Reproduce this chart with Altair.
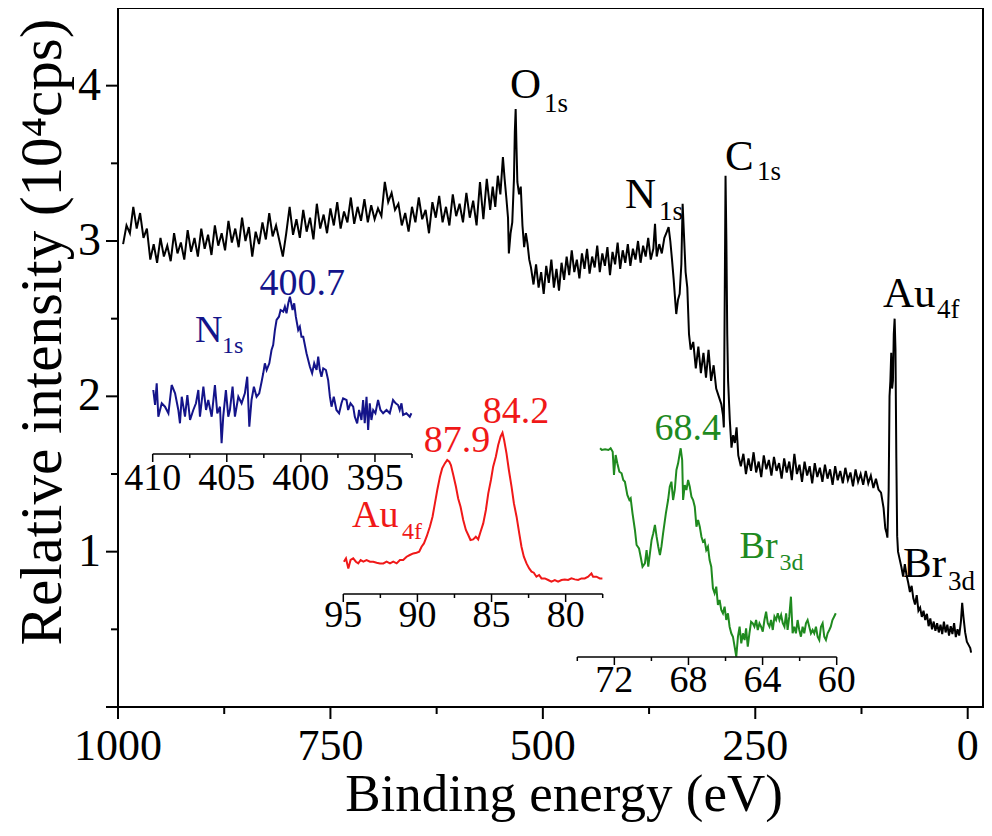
import altair as alt
import pandas as pd

FONT = "Liberation Serif, Times New Roman, serif"

# ---------------- survey spectrum (binding energy in eV, intensity in 10^4 cps)
survey_energy = [
    994, 990, 986, 982, 978, 974, 970, 966, 962, 958, 954, 950, 946, 942, 938, 934, 930, 926, 922, 918,
    914, 910, 906, 902, 898, 894, 890, 886, 882, 878, 874, 870, 866, 862, 858, 854, 850, 846, 842, 838,
    834, 830, 826, 822, 818, 814, 810, 806, 802, 798, 794, 790, 786, 782, 778, 774, 770, 766, 762, 758,
    754, 750, 746, 742, 738, 734, 730, 726, 722, 718, 714, 710, 706, 702, 698, 694, 690, 686, 682, 678,
    674, 670, 666, 662, 658, 654, 650, 646, 642, 638, 634, 630, 626, 622, 618, 614, 610, 606, 602, 598,
    594, 590, 586, 582, 578, 574, 570, 566, 562,
    559, 556, 553, 550, 547, 545, 543, 541, 540, 538, 536, 534, 533, 532, 531, 530, 528, 526, 524, 522,
    520, 518, 516, 514,
    511, 508, 505, 502, 499, 496, 493, 490, 487, 484, 481, 478, 475, 472, 469, 466, 463, 460, 457, 454,
    451, 448, 445, 442, 439, 436, 433, 430, 427, 424, 421, 418, 415, 412, 409, 406, 403, 400, 397, 394,
    391, 388, 385, 382, 379, 376, 373,
    370, 368, 366, 363, 360, 357, 354, 352, 350, 348, 346, 344, 343, 341, 339, 337, 335.5, 334, 332, 330,
    328, 326, 323, 320, 317, 314, 311, 308, 305, 302, 299, 296, 293, 290, 288, 287, 286, 285, 284, 283,
    282, 280, 278, 276, 274, 272, 270,
    267, 264, 261, 258, 255, 252, 249, 246, 243, 240, 237, 234, 231, 228, 225, 222, 219, 216, 213, 210,
    207, 204, 201, 198, 195, 192, 189, 186, 183, 180, 177, 174, 171, 168, 165, 162, 159, 156, 153, 150,
    147, 144, 141, 138, 135, 132, 129, 126, 123, 120, 117, 114, 111, 108, 105,
    102, 99, 97, 95.5, 94.5, 93, 92, 91, 90, 89, 88, 87, 86, 85, 84, 83, 82, 80, 78, 76,
    74, 72, 70, 68, 66, 64, 62, 60, 58, 56, 54, 52, 50, 48, 46, 44, 42, 40, 38, 36,
    34, 32, 30, 28, 26, 24, 22, 20, 18, 16, 14, 12, 10, 8, 6.5, 5, 3, 1, -1, -3, -4,
]
survey_counts = [
    2.98, 3.10, 3.05, 3.22, 3.08, 3.18, 3.02, 3.08, 2.88, 2.98, 2.86, 3.02, 2.90, 2.97, 2.87, 3.05, 2.92, 2.99, 2.88, 3.07,
    2.93, 3.02, 2.90, 3.08, 2.95, 3.04, 2.91, 3.10, 2.97, 3.05, 2.94, 3.13, 2.99, 3.08, 2.96, 3.15, 3.00, 3.09, 2.90, 3.06,
    2.98, 3.12, 3.01, 3.18, 3.03, 3.10, 3.00, 2.90, 3.05, 3.22, 3.04, 3.14, 3.02, 3.20, 3.06, 3.15, 3.01, 3.24, 3.08, 3.17,
    3.05, 3.21, 3.10, 3.25, 3.08, 3.19, 3.12, 3.28, 3.11, 3.22, 3.13, 3.27, 3.12, 3.23, 3.14, 3.21, 3.16, 3.38, 3.25, 3.31,
    3.20, 3.24, 3.10, 3.18, 3.06, 3.22, 3.12, 3.28, 3.14, 3.20, 3.05, 3.25, 3.15, 3.29, 3.12, 3.22, 3.10, 3.30, 3.16, 3.24,
    3.12, 3.31, 3.15, 3.26, 3.10, 3.38, 3.14, 3.40, 3.20,
    3.35, 3.22, 3.42, 3.30, 3.54, 3.40, 3.28, 3.15, 2.92, 3.05, 3.12, 3.40, 3.70, 3.85, 3.60, 3.38, 3.30, 3.35, 3.10, 2.96,
    3.05, 2.98, 2.88, 2.83,
    2.72, 2.85, 2.70, 2.80, 2.66, 2.84, 2.73, 2.88, 2.70, 2.82, 2.68, 2.86, 2.75, 2.90, 2.78, 2.94, 2.80, 2.88, 2.76, 2.92,
    2.82, 2.95, 2.79, 2.90, 2.83, 2.97, 2.80, 2.92, 2.84, 2.96, 2.78, 2.93, 2.85, 2.99, 2.82, 2.94, 2.86, 2.98, 2.84, 2.95,
    2.88, 3.00, 2.86, 2.97, 2.90, 3.02, 2.88,
    2.95, 3.11, 2.90, 2.98, 2.92, 3.02, 3.06, 3.09, 3.00, 2.88, 2.75, 2.60, 2.53, 2.62, 2.66, 2.85, 3.24, 3.05, 2.80, 2.70,
    2.40, 2.30, 2.35, 2.18, 2.32, 2.15, 2.28, 2.12, 2.30, 2.10, 2.20, 2.05, 2.00, 1.95, 1.88, 1.80, 2.60, 3.42, 3.00, 2.40,
    2.10, 1.85, 1.67, 1.75, 1.70, 1.80, 1.62,
    1.55, 1.63, 1.50, 1.60, 1.52, 1.64, 1.51, 1.58, 1.48, 1.62, 1.53, 1.59, 1.49, 1.61, 1.52, 1.57, 1.47, 1.60, 1.51, 1.58,
    1.46, 1.63, 1.50, 1.56, 1.45, 1.58, 1.49, 1.55, 1.44, 1.57, 1.48, 1.54, 1.45, 1.56, 1.47, 1.53, 1.43, 1.55, 1.46, 1.52,
    1.44, 1.54, 1.46, 1.51, 1.42, 1.53, 1.45, 1.50, 1.43, 1.52, 1.44, 1.49, 1.41, 1.47, 1.40,
    1.38, 1.28, 1.15, 1.12, 1.09, 1.40, 2.00, 2.10, 2.28, 2.05, 2.10, 2.40, 2.50, 2.30, 1.60, 1.10, 1.00, 0.95, 0.90, 0.84,
    0.92, 0.85, 0.80, 0.74, 0.78, 0.70, 0.66, 0.72, 0.62, 0.64, 0.58, 0.62, 0.56, 0.60, 0.52, 0.57, 0.50, 0.55, 0.49, 0.54,
    0.48, 0.53, 0.47, 0.55, 0.48, 0.53, 0.46, 0.52, 0.47, 0.54, 0.45, 0.50, 0.46, 0.55, 0.67, 0.58, 0.48, 0.42, 0.40, 0.38, 0.35,
]

# ---------------- N1s high-resolution inset (a.u.)
n1s_energy = [
    409.96, 409.84, 409.73, 409.62, 409.39, 409.17, 408.94, 408.72, 408.49, 408.27, 408.16, 408.04, 407.82, 407.66,
    407.48, 407.26, 407.08, 406.92, 406.81, 406.58, 406.40, 406.25, 406.02, 405.80, 405.64, 405.46, 405.35, 405.24,
    405.06, 404.90, 404.79, 404.61, 404.45, 404.22, 404.00, 403.78, 403.62, 403.48, 403.33, 403.17, 402.99, 402.81,
    402.65, 402.54, 402.43, 402.31, 402.13, 401.98, 401.87, 401.75, 401.64, 401.48, 401.37, 401.19, 401.08, 400.97,
    400.85, 400.74, 400.56, 400.45, 400.34, 400.18, 400.07, 399.96, 399.84, 399.62, 399.39, 399.24, 399.10, 398.94,
    398.83, 398.72, 398.61, 398.49, 398.31, 398.16, 398.04, 397.93, 397.78, 397.60, 397.42, 397.26, 397.15, 396.92,
    396.81, 396.65, 396.47, 396.36, 396.20, 396.07, 395.91, 395.80, 395.69, 395.57, 395.46, 395.35, 395.24, 395.12,
    394.97, 394.79, 394.63, 394.45, 394.22, 394.00, 393.78, 393.60, 393.44, 393.33, 393.21, 393.10, 392.88, 392.65,
    392.54,
]
n1s_counts = [
    70.0, 55.0, 76.7, 43.3, 56.7, 53.3, 46.7, 75.0, 66.7, 50.0, 36.7, 63.3, 43.3, 65.0, 40.0, 50.0, 56.7, 70.0, 43.3, 73.3,
    50.0, 60.0, 43.3, 75.0, 46.7, 53.3, 16.7, 43.3, 70.0, 43.3, 50.0, 73.3, 43.3, 63.3, 56.7, 66.7, 83.3, 33.3, 60.0, 73.3,
    63.3, 66.7, 78.3, 86.7, 96.7, 90.0, 96.7, 110.0, 115.0, 130.0, 140.0, 143.3, 150.0, 148.3, 153.3, 146.7, 156.7, 163.3,
    150.0, 156.7, 143.3, 130.0, 133.3, 123.3, 123.3, 106.7, 93.3, 86.7, 96.7, 90.0, 103.3, 90.0, 83.3, 91.7, 90.0, 80.0,
    63.3, 53.3, 63.3, 50.0, 46.7, 56.7, 61.7, 60.0, 50.0, 56.7, 53.3, 43.3, 36.7, 50.0, 40.0, 60.0, 36.7, 63.3, 30.0, 56.7,
    40.0, 50.0, 46.7, 60.0, 50.0, 46.7, 50.0, 46.7, 60.0, 56.7, 55.0, 50.0, 56.7, 45.0, 46.7, 43.3, 46.7,
]

# ---------------- Au4f inset (a.u.)
au4f_energy = [
    94.96, 94.82, 94.66, 94.51, 94.33, 94.15, 93.99, 93.83, 93.65, 93.43, 93.20, 92.98, 92.75, 92.53, 92.30, 92.08,
    91.85, 91.63, 91.40, 91.18, 90.96, 90.73, 90.51, 90.28, 90.06, 89.88, 89.72, 89.56, 89.38, 89.27, 89.16, 88.98,
    88.82, 88.66, 88.48, 88.33, 88.15, 87.99, 87.85, 87.74, 87.58, 87.40, 87.25, 87.09, 86.91, 86.73, 86.57, 86.42,
    86.24, 86.06, 85.90, 85.74, 85.56, 85.38, 85.22, 85.04, 84.89, 84.71, 84.55, 84.39, 84.26, 84.15, 83.99, 83.83,
    83.65, 83.49, 83.31, 83.13, 82.98, 82.82, 82.64, 82.46, 82.30, 82.15, 81.97, 81.79, 81.63, 81.40, 81.18, 80.96,
    80.73, 80.51, 80.28, 80.06, 79.83, 79.61, 79.38, 79.16, 78.93, 78.71, 78.48, 78.26, 78.15, 77.92, 77.70, 77.52,
]
au4f_counts = [
    35.0, 38.3, 28.3, 36.7, 38.3, 35.0, 33.3, 36.7, 35.0, 36.7, 35.0, 35.0, 34.0, 33.3, 33.3, 35.0, 33.3, 35.0, 33.3, 36.7,
    36.7, 40.0, 41.7, 43.3, 44.0, 45.0, 50.0, 53.3, 60.0, 65.0, 70.0, 80.0, 93.3, 106.7, 120.0, 128.3, 133.3, 136.7, 135.0,
    131.7, 121.7, 110.0, 98.3, 90.0, 76.7, 66.7, 61.7, 56.7, 57.3, 60.0, 57.3, 65.0, 73.3, 86.7, 103.3, 116.7, 130.0, 140.0,
    151.7, 160.0, 164.0, 156.7, 143.3, 126.7, 110.0, 93.3, 80.0, 63.3, 50.0, 40.0, 33.3, 28.3, 25.0, 24.0, 20.0, 21.7, 18.3,
    18.3, 16.7, 15.0, 16.7, 15.0, 16.7, 17.3, 16.7, 18.3, 17.3, 16.7, 18.3, 18.3, 20.0, 23.3, 20.0, 20.0, 18.3, 18.3,
]

# ---------------- Br3d inset (a.u.)
br3d_energy = [
    72.77, 72.68, 72.50, 72.32, 72.20, 72.09, 72.02, 71.93, 71.84, 71.73, 71.61, 71.52, 71.43, 71.30, 71.19, 71.12,
    71.02, 70.89, 70.80, 70.67, 70.58, 70.48, 70.35, 70.26, 70.17, 70.08, 69.99, 69.90, 69.81, 69.72, 69.63, 69.54,
    69.46, 69.37, 69.22, 69.10, 69.01, 68.92, 68.83, 68.74, 68.65, 68.56, 68.47, 68.42, 68.34, 68.29, 68.20, 68.11,
    68.02, 67.93, 67.84, 67.75, 67.66, 67.57, 67.48, 67.39, 67.30, 67.22, 67.13, 67.04, 66.95, 66.86, 66.77, 66.68,
    66.59, 66.50, 66.41, 66.32, 66.23, 66.14, 66.05, 65.96, 65.87, 65.78, 65.69, 65.60, 65.51, 65.42, 65.33, 65.24,
    65.15, 65.06, 64.97, 64.89, 64.80, 64.71, 64.62, 64.53, 64.44, 64.35, 64.26, 64.17, 64.08, 63.99, 63.90, 63.81,
    63.72, 63.63, 63.54, 63.45, 63.36, 63.27, 63.18, 63.09, 63.00, 62.91, 62.82, 62.73, 62.65, 62.56, 62.47, 62.38,
    62.29, 62.20, 62.11, 62.02, 61.93, 61.84, 61.75, 61.66, 61.57, 61.48, 61.39, 61.30, 61.21, 61.12, 61.03, 60.94,
    60.85, 60.76, 60.67, 60.58, 60.49, 60.40, 60.32, 60.23, 60.14, 60.05,
]
br3d_counts = [
    221.7, 220.0, 220.7, 220.0, 221.7, 218.3, 195.0, 215.0, 206.7, 198.3,
    196.7, 190.0, 188.3, 175.0, 170.0, 171.7, 156.7, 140.0, 125.0, 121.7,
    113.3, 103.3, 106.7, 120.0, 103.3, 116.7, 130.0, 136.7, 145.0, 133.3,
    123.3, 115.0, 123.3, 136.7, 156.7, 170.0, 183.3, 188.3, 170.0, 180.0,
    200.0, 206.7, 216.7, 221.7, 210.0, 170.0, 185.0, 180.0, 190.0, 183.3,
    173.3, 170.0, 163.3, 143.3, 150.0, 143.3, 133.3, 128.3, 130.0, 120.0,
    123.3, 110.0, 103.3, 81.7, 76.7, 83.3, 65.0, 70.0, 60.0, 56.7,
    63.3, 50.0, 56.7, 43.3, 36.7, 33.3, 23.3, 13.3, 33.3, 43.3,
    26.7, 36.7, 30.0, 41.7, 23.3, 36.7, 48.3, 46.7, 43.3, 50.0,
    40.0, 46.7, 43.3, 38.3, 50.0, 58.3, 46.7, 43.3, 50.0, 40.0,
    53.3, 50.0, 56.7, 50.0, 55.0, 46.7, 43.3, 56.7, 40.0, 53.3,
    73.3, 36.7, 43.3, 36.7, 50.0, 40.0, 33.3, 43.3, 36.7, 46.7,
    50.0, 43.3, 36.7, 40.0, 36.7, 43.3, 33.3, 30.0, 43.3, 46.7,
    33.3, 30.0, 36.7, 40.0, 43.3, 50.0, 53.3, 56.7,
]

# ---------------- axes ticks and titles
main_x_major = [1000, 750, 500, 250, 0]
main_x_minor = [875, 625, 375, 125]
main_y_major = [0, 1, 2, 3, 4]
main_y_labels = [1, 2, 3, 4]
main_y_minor = [0.5, 1.5, 2.5, 3.5]
x_title = "Binding energy (eV)"
y_title = "Relative intensity (10⁴cps)"
n1s_ticks = [410, 407.5, 405, 402.5, 400, 397.5, 395, 392.5]
n1s_major = [410, 405, 400, 395]
au4f_ticks = [95, 92.5, 90, 87.5, 85, 82.5, 80, 77.5]
au4f_major = [95, 90, 85, 80]
br3d_ticks = [74, 72, 70, 68, 66, 64, 62, 60]
br3d_major = [72, 68, 64, 60]

# ---------------- peak labels on survey (element, subscript, anchor in data units)
peak_names = ["O", "N", "C", "Au", "Br"]
peak_subs = ["1s", "1s", "1s", "4f", "3d"]
peak_name_E = [538.7, 403.3, 285.6, 99.7, 76.2]
peak_name_I = [3.92, 3.21, 3.457, 2.575, 0.837]
peak_sub_E = [498.7, 363.3, 248.0, 36.2, 23.2]
peak_sub_I = [3.83, 3.135, 3.393, 2.504, 0.753]

# inset annotations
n1s_value_text = ["400.7"]; n1s_value_E = [399.9]; n1s_value_I = [165]
n1s_name = ["N"]; n1s_name_E = [407.15]; n1s_name_I = [118]
n1s_sub = ["1s"]; n1s_sub_E = [405.33]; n1s_sub_I = [107]

au4f_value_text = ["87.9", "84.2"]; au4f_value_E = [87.33, 83.35]; au4f_value_I = [144.7, 173.7]
au4f_name = ["Au"]; au4f_name_E = [94.41]; au4f_name_I = [69.5]
au4f_sub = ["4f"]; au4f_sub_E = [91.04]; au4f_sub_I = [57.5]

br3d_value_text = ["68.4"]; br3d_value_E = [68.04]; br3d_value_I = [230]
br3d_name = ["Br"]; br3d_name_E = [65.24]; br3d_name_I = [112]
br3d_sub = ["3d"]; br3d_sub_E = [63.09]; br3d_sub_I = [100]

BLUE = "#14148a"
RED = "#f01818"
GREEN = "#1f8a1f"

PLOT_W = 865
PLOT_H = 699


def text_layer(texts, es, is_, sx, sy, color, size, align):
    df = pd.DataFrame({"E": es, "I": is_, "t": texts})
    return alt.Chart(df).mark_text(
        font=FONT, fontSize=size, color=color, align=align, baseline="alphabetic"
    ).encode(
        x=alt.X("E:Q", scale=sx, axis=None),
        y=alt.Y("I:Q", scale=sy, axis=None),
        text="t:N",
    )


# ---------------- main survey layer (axes drawn as marks)
sx_main = alt.Scale(domain=[-18, 1000], reverse=True, nice=False, zero=False)
sy_main = alt.Scale(domain=[0, 4.5], nice=False, zero=False)
XM = alt.X("E:Q", scale=sx_main, axis=None)
YM = alt.Y("I:Q", scale=sy_main, axis=None)

survey = alt.Chart(pd.DataFrame({"E": survey_energy, "I": survey_counts})).mark_line(
    color="black", strokeWidth=2
).encode(x=XM, y=YM)

x_major_ticks = alt.Chart(pd.DataFrame({"E": main_x_major})).mark_rule(
    color="black", strokeWidth=2
).encode(x=XM, y=alt.value(PLOT_H), y2=alt.value(PLOT_H + 12))
x_minor_ticks = alt.Chart(pd.DataFrame({"E": main_x_minor})).mark_rule(
    color="black", strokeWidth=2
).encode(x=XM, y=alt.value(PLOT_H), y2=alt.value(PLOT_H + 7))
x_labels = alt.Chart(pd.DataFrame({"E": main_x_major, "t": [str(v) for v in main_x_major]})).mark_text(
    font=FONT, fontSize=44, color="black", align="center", baseline="alphabetic"
).encode(x=XM, y=alt.value(PLOT_H + 53), text="t:N")

y_major_ticks = alt.Chart(pd.DataFrame({"I": main_y_major})).mark_rule(
    color="black", strokeWidth=2
).encode(y=YM, x=alt.value(0), x2=alt.value(-12))
y_minor_ticks = alt.Chart(pd.DataFrame({"I": main_y_minor})).mark_rule(
    color="black", strokeWidth=2
).encode(y=YM, x=alt.value(0), x2=alt.value(-7))
y_labels = alt.Chart(pd.DataFrame({"I": main_y_labels, "t": [str(v) for v in main_y_labels]})).mark_text(
    font=FONT, fontSize=46, color="black", align="right", baseline="middle"
).encode(y=YM, x=alt.value(-17), text="t:N")

x_title_mark = alt.Chart(pd.DataFrame({"t": [x_title]})).mark_text(
    font=FONT, fontSize=53, color="black", align="center", baseline="alphabetic"
).encode(x=alt.value(446), y=alt.value(PLOT_H + 104), text="t:N")
y_title_mark = alt.Chart(pd.DataFrame({"t": [y_title]})).mark_text(
    font=FONT, fontSize=59, color="black", align="center", baseline="alphabetic", angle=270
).encode(x=alt.value(-57), y=alt.value(324), text="t:N")

main_layer = alt.layer(
    survey,
    x_major_ticks, x_minor_ticks, x_labels,
    y_major_ticks, y_minor_ticks, y_labels,
    x_title_mark, y_title_mark,
    text_layer(peak_names, peak_name_E, peak_name_I, sx_main, sy_main, "black", 43, "left"),
    text_layer(peak_subs, peak_sub_E, peak_sub_I, sx_main, sy_main, "black", 27, "left"),
)


def inset(energy, counts, color, xdom, xrng, ydom, yrng, ticks, majors, axis_y, label_y,
          values, names, subs):
    sx = alt.Scale(domain=xdom, range=xrng, nice=False, zero=False)
    sy = alt.Scale(domain=ydom, range=yrng, nice=False, zero=False)
    xe = alt.X("E:Q", scale=sx, axis=None)
    ye = alt.Y("I:Q", scale=sy, axis=None)
    line = alt.Chart(pd.DataFrame({"E": energy, "I": counts})).mark_line(
        color=color, strokeWidth=2
    ).encode(x=xe, y=ye)
    axis_line = alt.Chart(pd.DataFrame({"E": [min(ticks)], "E2": [max(ticks)]})).mark_rule(
        color="black", strokeWidth=1.5
    ).encode(x=xe, x2="E2:Q", y=alt.value(axis_y))
    tick_df = pd.DataFrame({"E": ticks, "major": [t in majors for t in ticks]})
    major_ticks = alt.Chart(tick_df).transform_filter("datum.major").mark_rule(
        color="black", strokeWidth=1.5
    ).encode(x=xe, y=alt.value(axis_y), y2=alt.value(axis_y + 8))
    minor_ticks = alt.Chart(tick_df).transform_filter("!datum.major").mark_rule(
        color="black", strokeWidth=1.5
    ).encode(x=xe, y=alt.value(axis_y), y2=alt.value(axis_y + 4))
    labels = alt.Chart(pd.DataFrame({"E": majors, "t": [f"{m:g}" for m in majors]})).mark_text(
        font=FONT, fontSize=38, color="black", align="center", baseline="alphabetic"
    ).encode(x=xe, y=alt.value(label_y), text="t:N")
    return alt.layer(
        line, axis_line, major_ticks, minor_ticks, labels,
        text_layer(values[0], values[1], values[2], sx, sy, color, 38, "center"),
        text_layer(names[0], names[1], names[2], sx, sy, color, 38, "left"),
        text_layer(subs[0], subs[1], subs[2], sx, sy, color, 24, "left"),
    )


n1s_layer = inset(
    n1s_energy, n1s_counts, BLUE, [392.5, 410], [294, 34.7], [0, 200], [452, 252],
    n1s_ticks, n1s_major, 446, 482,
    (n1s_value_text, n1s_value_E, n1s_value_I),
    (n1s_name, n1s_name_E, n1s_name_I),
    (n1s_sub, n1s_sub_E, n1s_sub_I),
)
au4f_layer = inset(
    au4f_energy, au4f_counts, RED, [77.5, 95], [484.7, 225.3], [0, 200], [588.7, 388.7],
    au4f_ticks, au4f_major, 586, 619,
    (au4f_value_text, au4f_value_E, au4f_value_I),
    (au4f_name, au4f_name_E, au4f_name_I),
    (au4f_sub, au4f_sub_E, au4f_sub_I),
)
br3d_layer = inset(
    br3d_energy, br3d_counts, GREEN, [60, 74], [718.7, 459.3], [0, 250], [662, 412],
    br3d_ticks, br3d_major, 649, 684,
    (br3d_value_text, br3d_value_E, br3d_value_I),
    (br3d_name, br3d_name_E, br3d_name_I),
    (br3d_sub, br3d_sub_E, br3d_sub_I),
)

chart = alt.layer(main_layer, n1s_layer, au4f_layer, br3d_layer).resolve_scale(
    x="independent", y="independent"
).properties(
    width=PLOT_W,
    height=PLOT_H,
    autosize=alt.AutoSizeParams(type="none"),
    padding={"left": 110, "top": 0, "right": 1, "bottom": 116},
    background="white",
).configure_view(
    stroke="black", strokeWidth=2
)

chart.save("out.html", embed_options={"renderer": "svg", "actions": False})
